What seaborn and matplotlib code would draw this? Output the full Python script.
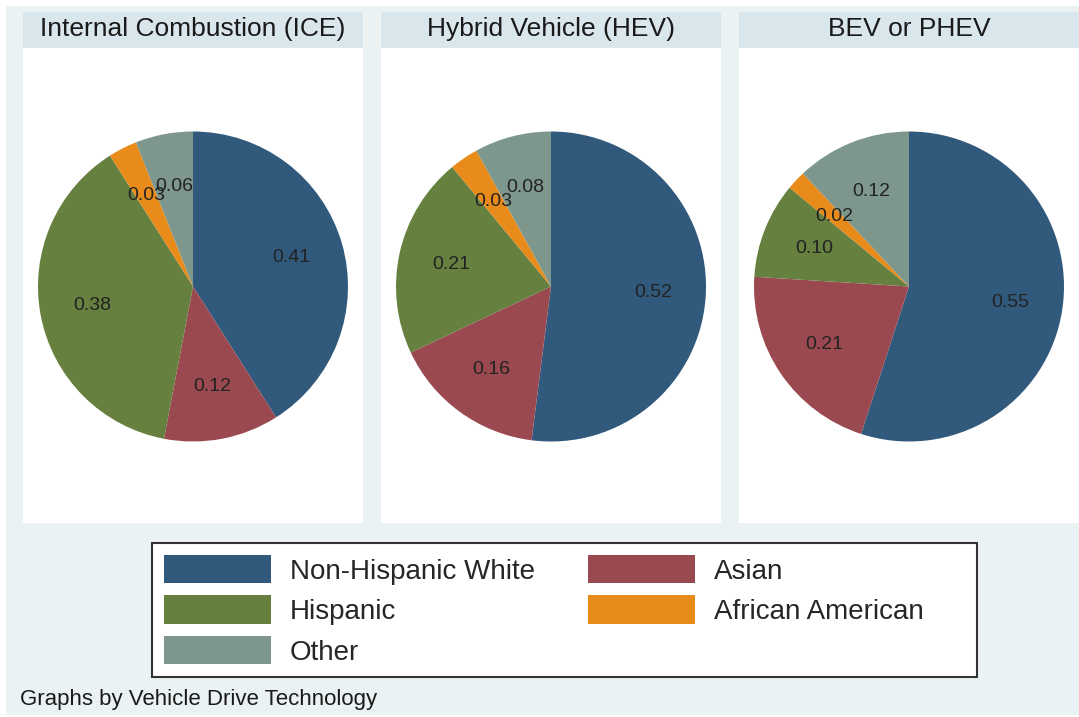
import matplotlib
matplotlib.use("Agg")
import matplotlib.pyplot as plt
from matplotlib.patches import Rectangle, Patch
import seaborn as sns

# data
groups = ["Non-Hispanic White", "Asian", "Hispanic", "African American", "Other"]
panels = ["Internal Combustion (ICE)", "Hybrid Vehicle (HEV)", "BEV or PHEV"]
ice = [0.41, 0.12, 0.38, 0.03, 0.06]
hev = [0.52, 0.16, 0.21, 0.03, 0.08]
bev = [0.55, 0.21, 0.10, 0.02, 0.12]
shares = [ice, hev, bev]
colors = ["#30597C", "#9B4950", "#65803F", "#E88B1B", "#7D978C"]
note = "Graphs by Vehicle Drive Technology"

sns.set_theme(style="white")
plt.rcParams["font.family"] = ["Liberation Sans", "DejaVu Sans"]
pal = sns.color_palette(colors)

W, H = 1079, 717
fig = plt.figure(figsize=(W / 100, H / 100), dpi=100, facecolor="white")


def box(x0, y0, x1, y1):
    # pixel box (top-left origin) -> figure fraction
    return [x0 / W, 1 - y1 / H, (x1 - x0) / W, (y1 - y0) / H]


# outer light background
fig.patches.append(Rectangle((6 / W, 1 - 715 / H), 1, 709 / H, transform=fig.transFigure,
                             facecolor="#EAF2F3", edgecolor="none", zorder=-10))

R = 155
lefts = [23, 381, 739]
for x0, title, vals in zip(lefts, panels, shares):
    x1 = x0 + 340
    tax = fig.add_axes(box(x0, 12, x1, 48))
    tax.set_facecolor("#D9E6EB")
    tax.set_xticks([]); tax.set_yticks([])
    for s in tax.spines.values():
        s.set_visible(False)
    tax.set_xlim(0, 1); tax.set_ylim(0, 36)
    tax.text(0.5, 12, title, ha="center", va="baseline", fontsize=19, color="#1a1a1a")

    ax = fig.add_axes(box(x0, 48, x1, 523))
    ax.pie(vals, colors=pal, startangle=90, counterclock=False, frame=True,
           autopct=lambda p: f"{p / 100:.2f}", pctdistance=0.66,
           wedgeprops=dict(linewidth=0),
           textprops=dict(fontsize=14, color="#222222"))
    ax.set_facecolor("white")
    ax.set_aspect("auto")
    ax.set_xlim(-170 / R, 170 / R)
    ax.set_ylim(-236.5 / R, 238.5 / R)
    ax.set_xticks([]); ax.set_yticks([])
    for s in ax.spines.values():
        s.set_visible(False)

# legend frame
fig.patches.append(Rectangle((152 / W, 1 - 677 / H), 825 / W, 134 / H, transform=fig.transFigure,
                             facecolor="white", edgecolor="#333333", linewidth=1.5, zorder=-5))
order = [0, 2, 4, 1, 3]
handles = [Patch(facecolor=pal[i], edgecolor="none", label=groups[i]) for i in order]
fig.legend(handles=handles, ncol=2, frameon=False, loc="upper left",
           bbox_to_anchor=(164 / W, 1 - 555 / H), borderaxespad=0, borderpad=0,
           fontsize=20, handlelength=3.85, handleheight=1.2, handletextpad=0.68,
           labelspacing=0.39, columnspacing=1.93)

fig.text(20 / W, 1 - 705 / H, note, fontsize=16, color="#1a1a1a", va="baseline")

fig.savefig("out.png", dpi=100, facecolor=fig.get_facecolor())
